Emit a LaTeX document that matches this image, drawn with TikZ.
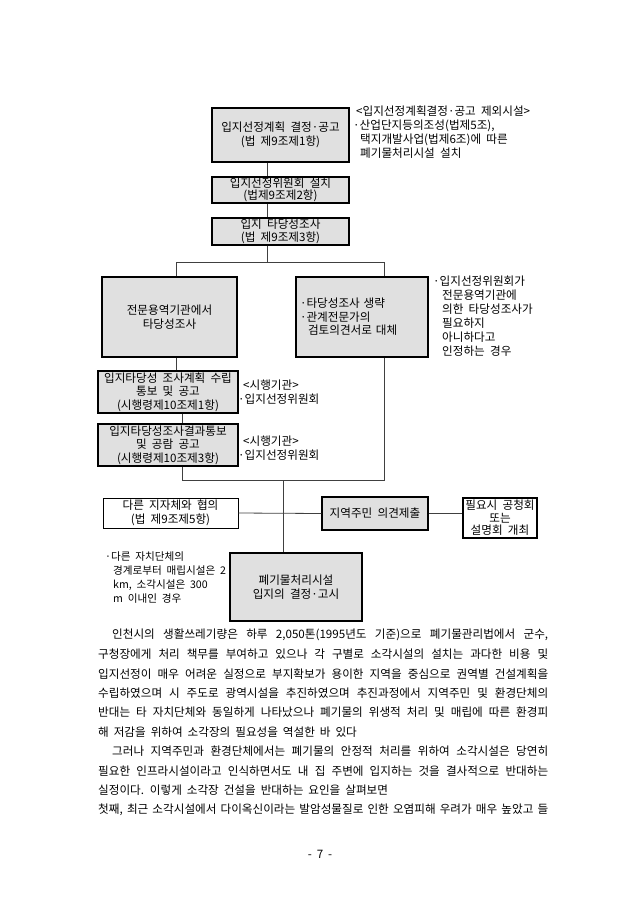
\documentclass[tikz,border=0pt]{standalone}
\usepackage{fontspec}
\setmainfont{Noto Sans CJK KR}[WordSpace=2.0]
\newfontfamily\parfamily{Noto Sans CJK KR}[WordSpace=1.9]
\usepackage{tikz}
\usetikzlibrary{positioning,calc}
\newcommand{\boxfont}{\fontsize{11.6}{13.5}\selectfont}
\newcommand{\notefont}{\fontsize{11.6}{14}\selectfont}
\newcommand{\parfont}{\parfamily\fontsize{11.6}{19}\selectfont}

\begin{document}
\begin{tikzpicture}[x=1pt,y=-1pt,
        gbox/.style={draw=black, line width=1.4pt, fill=black!12, align=center, inner sep=1pt, font=\boxfont},
        wbox/.style={draw=black, line width=0.7pt, fill=white, align=center, inner sep=1pt, font=\boxfont},
        link/.style={draw=black!75, line width=0.8pt},
        note/.style={align=left, inner sep=0pt, font=\notefont},
        partext/.style={anchor=west, inner sep=0pt, font=\parfont}]
    \useasboundingbox (0,0) rectangle (640,905);

    \node[gbox, minimum width=137pt, minimum height=54pt] (plan) at (280.5,135) {입지선정계획 결정·공고\\(법 제9조제1항)};
    \node[gbox, minimum width=137pt, minimum height=26pt, inner ysep=0pt, font=\fontsize{11.6}{12.5}\selectfont] (committee) at (280.5,190) {입지선정위원회 설치\\(법제9조제2항)};
    \node[gbox, minimum width=137pt, minimum height=27pt, inner ysep=0pt, font=\fontsize{11.6}{12.5}\selectfont] (survey) at (280.5,231.5) {입지 타당성조사\\(법 제9조제3항)};
    \node[gbox, minimum width=135pt, minimum height=80pt] (agency) at (169.5,317) {전문용역기관에서\\타당성조사};
    \node[gbox, minimum width=132pt, minimum height=80pt, text width=124pt, align=left, inner xsep=4pt] (skip) at (362,317)
        {·타당성조사 생략\\·관계전문가의\\\hspace*{8pt}검토의견서로 대체};
    \node[gbox, minimum width=140pt, minimum height=42pt, inner ysep=0pt] (notice) at (168,392) {입지타당성 조사계획 수립\\통보 및 공고\\(시행령제10조제1항)};
    \node[gbox, minimum width=140pt, minimum height=42pt, inner ysep=0pt] (result) at (168,445) {입지타당성조사결과통보\\및 공람 공고\\(시행령제10조제3항)};
    \node[wbox, minimum width=135pt, minimum height=30pt, inner ysep=0pt] (neighbor) at (170.5,513) {다른 지자체와 협의\\(법 제9조제5항)};
    \node[gbox, minimum width=106pt, minimum height=33pt] (opinion) at (375,513.5) {지역주민 의견제출};
    \node[gbox, fill=white, minimum width=74pt, minimum height=40pt, inner sep=0pt, font=\fontsize{11.6}{12.5}\selectfont] (hearing) at (500,518) {필요시 공청회\\또는\\설명회 개최};
    \node[gbox, minimum width=132pt, minimum height=68pt] (decision) at (296,587) {폐기물처리시설\\입지의 결정·고시};

    \node[note, anchor=north west] (planNote) at (353,106) {\hspace*{3pt}<입지선정계획결정·공고 제외시설>\\·산업단지등의조성(법제5조),\\\hspace*{7pt}택지개발사업(법제6조)에 따른\\\hspace*{7pt}폐기물처리시설 설치};
    \node[note, anchor=north west] (skipNote) at (433,276) {·입지선정위원회가\\\hspace*{9pt}전문용역기관에\\\hspace*{9pt}의한 타당성조사가\\\hspace*{9pt}필요하지\\\hspace*{9pt}아니하다고\\\hspace*{9pt}인정하는 경우};
    \node[note, anchor=west] (noticeNote) at (238,392) {\hspace*{5pt}<시행기관>\\·입지선정위원회};
    \node[note, anchor=west] (resultNote) at (238,448) {\hspace*{5pt}<시행기관>\\·입지선정위원회};
    \node[note, anchor=north west, font=\fontsize{10.6}{13.7}\selectfont] (neighborNote) at (105,552) {·다른 자치단체의\\\hspace*{8pt}경계로부터 매립시설은 2\\\hspace*{8pt}km, 소각시설은 300\\\hspace*{8pt}m 이내인 경우};

    \coordinate (trunk) at (267,0);
    \coordinate (forkL) at (176,262);
    \coordinate (forkR) at (384,262);
    \coordinate (joinL) at (182,480);
    \coordinate (joinR) at (384,480);
    \coordinate (joinM) at (283,480);
    \draw[link] (plan.south -| trunk) -- (committee.north -| trunk);
    \draw[link] (committee.south -| trunk) -- (survey.north -| trunk);
    \draw[link] (survey.south -| trunk) -- (trunk |- forkL);
    \draw[link] (agency.north -| forkL) -- (forkL) -- (forkR) -- (skip.north -| forkR);
    \draw[link] (agency.south -| forkL) -- (notice.north -| forkL);
    \draw[link] (notice.south -| joinL) -- (result.north -| joinL);
    \draw[link] (result.south -| joinL) -- (joinL) -- (joinR) -- (skip.south -| joinR);
    \draw[link] (joinM) -- (decision.north -| joinM);
    \draw[link] (neighbor.east) -- (opinion.west);
    \draw[link] (opinion.east) -- (opinion.east -| hearing.west);

    \node[partext] (par1) at (112,635) {\makebox[436pt][s]{인천시의 생활쓰레기량은 하루 2,050톤(1995년도 기준)으로 폐기물관리법에서 군수,}};
    \node[partext] (par2) at (98,654.4) {\makebox[450pt][s]{구청장에게 처리 책무를 부여하고 있으나 각 구별로 소각시설의 설치는 과다한 비용 및}};
    \node[partext] (par3) at (98,673.8) {\makebox[450pt][s]{입지선정이 매우 어려운 실정으로 부지확보가 용이한 지역을 중심으로 권역별 건설계획을}};
    \node[partext] (par4) at (98,693.2) {\makebox[450pt][s]{수립하였으며 시 주도로 광역시설을 추진하였으며 추진과정에서 지역주민 및 환경단체의}};
    \node[partext] (par5) at (98,712.6) {\makebox[450pt][s]{반대는 타 자치단체와 동일하게 나타났으나 폐기물의 위생적 처리 및 매립에 따른 환경피}};
    \node[partext] (par6) at (98,732) {해 저감을 위하여 소각장의 필요성을 역설한 바 있다};
    \node[partext] (par7) at (112,751.4) {\makebox[436pt][s]{그러나 지역주민과 환경단체에서는 폐기물의 안정적 처리를 위하여 소각시설은 당연히}};
    \node[partext] (par8) at (98,770.8) {\makebox[450pt][s]{필요한 인프라시설이라고 인식하면서도 내 집 주변에 입지하는 것을 결사적으로 반대하는}};
    \node[partext] (par9) at (98,790.2) {실정이다. 이렇게 소각장 건설을 반대하는 요인을 살펴보면};
    \node[partext] (par10) at (98,809.6) {\makebox[450pt][s]{첫째, 최근 소각시설에서 다이옥신이라는 발암성물질로 인한 오염피해 우려가 매우 높았고 들}};
    \node[font=\parfont] (page) at (320,854) {- 7 -};
\end{tikzpicture}
\end{document}
